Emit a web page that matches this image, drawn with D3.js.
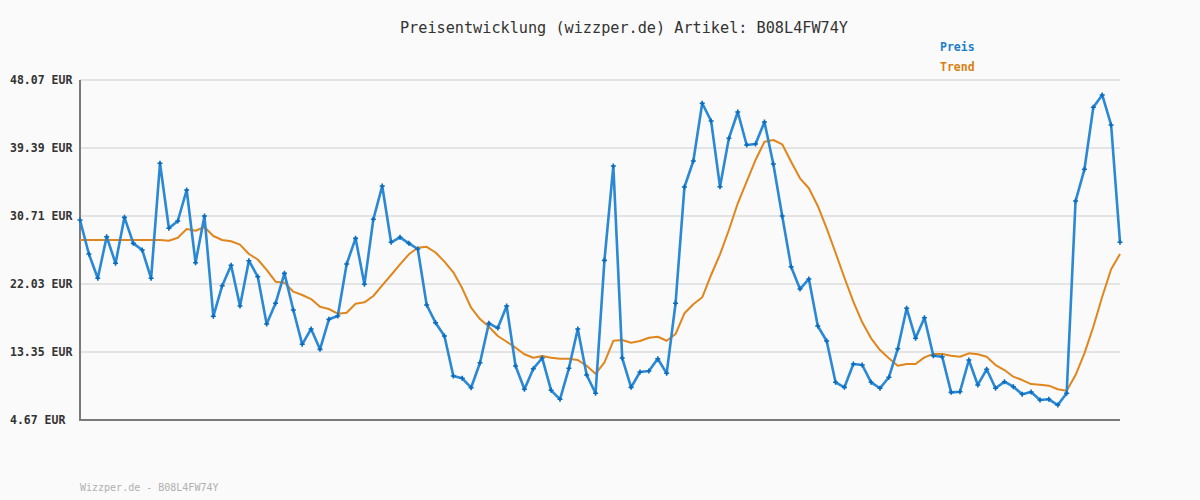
<!DOCTYPE html>
<html><head><meta charset="utf-8">
<script src="https://cdn.jsdelivr.net/npm/d3@7"></script>
<style>html,body{margin:0;padding:0;background:#fafafa;}svg{display:block;}</style>
</head><body>
<svg id="c" width="1200" height="500"></svg>
<script>
const title = "Preisentwicklung (wizzper.de) Artikel: B08L4FW74Y";
const footer = "Wizzper.de - B08L4FW74Y";
const seriesNames = ["Preis", "Trend"];
const yTicks = [4.67, 13.35, 22.03, 30.71, 39.39, 48.07];
const preis = [30.20,25.86,22.76,28.07,24.67,30.54,27.22,26.37,22.76,37.44,
29.14,30.07,34.03,24.75,30.71,17.91,21.81,24.42,19.22,25.00,
22.96,16.92,19.57,23.39,18.71,14.33,16.29,13.69,17.52,17.94,
24.58,27.86,21.99,30.29,34.54,27.35,27.99,27.22,26.50,19.35,
17.09,15.39,10.29,9.99,8.79,11.98,17.01,16.41,19.22,11.56,
8.59,11.22,12.58,8.46,7.31,11.27,16.29,10.41,8.08,25.05,
37.09,12.58,8.84,10.80,10.92,12.49,10.63,19.57,34.41,37.73,
45.10,42.84,34.45,40.63,43.99,39.77,39.90,42.71,37.35,30.71,
24.24,21.39,22.67,16.67,14.75,9.48,8.84,11.82,11.69,9.48,
8.72,10.12,13.77,18.93,15.10,17.73,12.88,12.75,8.20,8.28,
12.33,9.14,11.14,8.72,9.56,8.92,7.95,8.24,7.22,7.31,
6.58,8.08,32.62,36.67,44.59,46.16,42.33,27.35];
const trend = [27.65,27.65,27.65,27.65,27.65,27.65,27.65,27.65,27.65,27.65,
27.56,27.94,29.05,28.83,29.31,28.16,27.65,27.48,27.05,25.86,
25.16,23.82,22.32,22.20,21.05,20.63,20.11,19.13,18.84,18.24,
18.37,19.51,19.69,20.50,21.86,23.18,24.54,25.82,26.66,26.78,
26.05,24.88,23.52,21.48,19.00,17.56,16.58,15.39,14.66,13.90,
13.06,12.62,12.84,12.62,12.49,12.49,12.33,11.59,10.57,12.03,
14.78,14.88,14.54,14.75,15.17,15.30,14.79,15.65,18.29,19.44,
20.33,23.18,25.82,28.92,32.33,35.09,37.86,40.19,40.41,39.86,
37.64,35.52,34.25,31.99,29.14,26.02,22.83,19.77,17.14,15.10,
13.60,12.54,11.60,11.82,11.82,12.67,13.09,13.09,12.86,12.74,
13.18,13.06,12.74,11.69,11.05,10.20,9.77,9.26,9.17,9.05,
8.59,8.41,10.41,13.18,16.58,20.41,23.91,25.86];

const svg = d3.select("#c");
const L = 80, R = 1120, T = 80, B = 420;
const x = d3.scaleLinear().domain([0, preis.length - 1]).range([L, R]);
const y = d3.scaleLinear().domain([4.67, 48.07]).range([B, T]);
const mono = "'DejaVu Sans Mono', 'Liberation Mono', monospace";

svg.append("rect").attr("width", 1200).attr("height", 500).attr("fill", "#fafafa");

// grid
svg.append("g").selectAll("line").data(yTicks.slice(1)).join("line")
  .attr("x1", L).attr("x2", R).attr("y1", d => y(d)).attr("y2", d => y(d))
  .attr("stroke", "#e4e4e4").attr("stroke-width", 2);

// y labels
svg.append("g").selectAll("text").data(yTicks).join("text")
  .attr("x", 10).attr("y", d => y(d) + 4)
  .attr("font-family", mono).attr("font-size", "11.5px").attr("font-weight", "bold")
  .attr("fill", "#333").text(d => d.toFixed(2) + " EUR");

// axes lines
svg.append("line").attr("x1", L).attr("x2", L).attr("y1", T).attr("y2", B + 1)
  .attr("stroke", "#7a7a7a").attr("stroke-width", 2);
svg.append("line").attr("x1", L).attr("x2", R).attr("y1", B).attr("y2", B)
  .attr("stroke", "#7a7a7a").attr("stroke-width", 2);

const line = d3.line().x((d, i) => x(i)).y(d => y(d));

svg.append("path").datum(trend).attr("d", line).attr("fill", "none")
  .attr("stroke", "#e0861c").attr("stroke-width", 2).attr("stroke-linejoin", "round");
svg.append("path").datum(preis).attr("d", line).attr("fill", "none")
  .attr("stroke", "#2a88d4").attr("stroke-width", 2.6).attr("stroke-linejoin", "round");

// markers
svg.append("g").selectAll("path").data(preis).join("path")
  .attr("d", (d, i) => {
    const cx = x(i), cy = y(d), s = 2.5;
    return `M${cx - s},${cy}H${cx + s}M${cx},${cy - s}V${cy + s}`;
  })
  .attr("stroke", "#0b6cbd").attr("stroke-width", 1.6);

// title
svg.append("text").attr("x", 624).attr("y", 33).attr("text-anchor", "middle")
  .attr("font-family", mono).attr("font-size", "15.2px").attr("fill", "#333").text(title);

// legend
const legendColors = ["#1a7ec8", "#d97f12"];
svg.append("g").selectAll("text").data(seriesNames).join("text")
  .attr("x", 940).attr("y", (d, i) => 51 + i * 20)
  .attr("font-family", mono).attr("font-size", "11.5px").attr("font-weight", "bold")
  .attr("fill", (d, i) => legendColors[i]).text(d => d);

// footer
svg.append("text").attr("x", 80).attr("y", 491)
  .attr("font-family", mono).attr("font-size", "10px").attr("fill", "#b0b0b0").text(footer);
</script>
</body></html>
